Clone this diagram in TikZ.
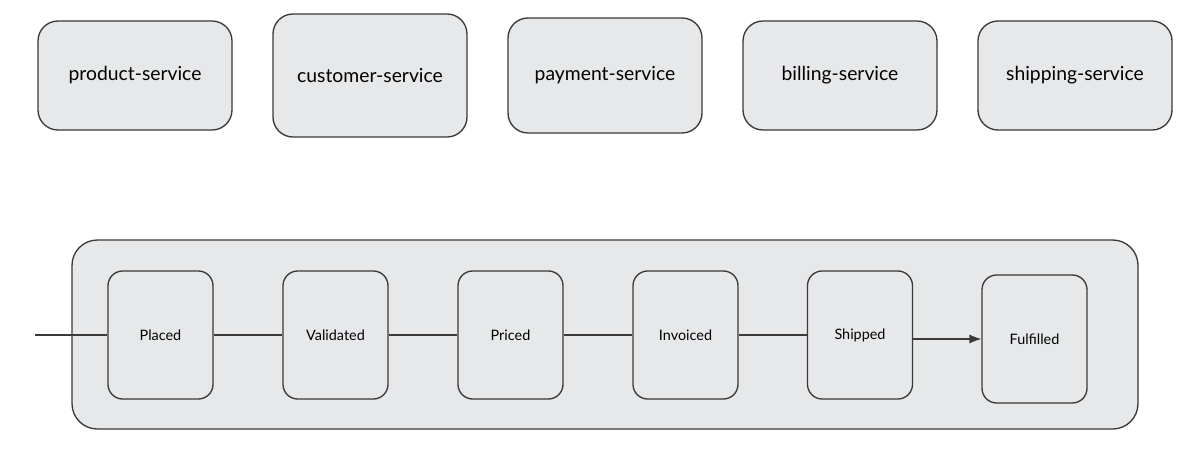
\documentclass[tikz,border=0pt]{standalone}
\usepackage{fontspec}
\setmainfont{Lato}
\usepackage{tikz}
\usetikzlibrary{shapes,arrows.meta,positioning}
\definecolor{boxfill}{HTML}{E6E8EA}
\definecolor{boxline}{HTML}{3A3A3A}

\begin{document}
\begin{tikzpicture}[
  x=0.75pt, y=-0.75pt,
  service/.style={draw=boxline, fill=boxfill, line width=1pt, rounded corners=15pt,
    minimum width=145.5pt, minimum height=81.75pt, inner sep=0pt, font=\fontsize{14.5}{17}\selectfont},
  state/.style={draw=boxline, fill=boxfill, line width=1pt, rounded corners=11pt,
    minimum width=78.75pt, minimum height=96pt, inner sep=0pt, font=\fontsize{10.8}{13}\selectfont},
  flow/.style={draw=boxline, line width=1pt},
]
\useasboundingbox (0,0) rectangle (1202,460);

\node[service] (product) at (135,75.5) {product-service};
\node[service, minimum height=92.25pt] (customer) at (370,75.5) {customer-service};
\node[service, minimum height=86.25pt] (payment) at (605,75.5) {payment-service};
\node[service] (billing) at (840,75.5) {billing-service};
\node[service] (shipping) at (1075,75.5) {shipping-service};

\node[draw=boxline, fill=boxfill, line width=1pt, rounded corners=19pt,
  minimum width=799.5pt, minimum height=141.75pt] (order) at (605,334.5) {};

\node[state] (placed) at (160.5,335) {Placed};
\node[state] (validated) at (335.5,335) {Validated};
\node[state] (priced) at (510.5,335) {Priced};
\node[state] (invoiced) at (685.5,335) {Invoiced};
\node[state] (shipped) at (860,335) {Shipped};
\node[state] (fulfilled) at (1034.5,339) {Fulfilled};

\coordinate (start) at (35,335);
\draw[flow] (start) -- (placed);
\draw[flow] (placed) -- (validated);
\draw[flow] (validated) -- (priced);
\draw[flow] (priced) -- (invoiced);
\draw[flow] (invoiced) -- (shipped);
\draw[flow, -{Latex[length=9pt,width=7pt]}] (shipped.east |- fulfilled) -- (fulfilled);
\end{tikzpicture}
\end{document}
